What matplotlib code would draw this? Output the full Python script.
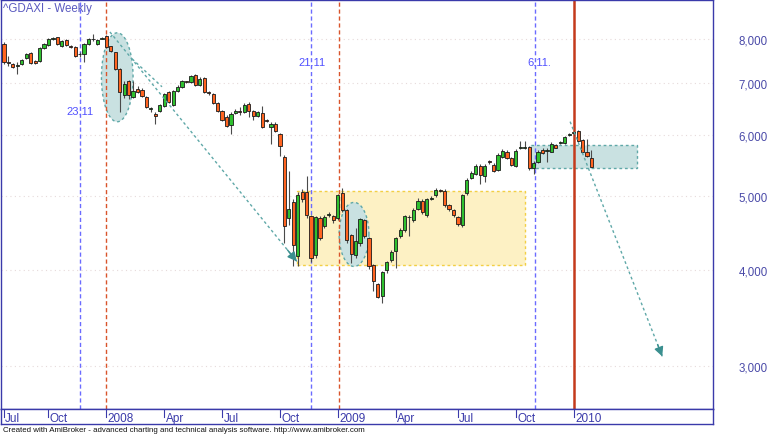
import numpy as np
import matplotlib
matplotlib.use("Agg")
import matplotlib.pyplot as plt
from matplotlib.ticker import FixedLocator, FuncFormatter, NullLocator

plt.rcParams['font.family'] = ['Liberation Sans', 'DejaVu Sans']

# weekly OHLC, ^GDAXI, late Jul 2007 .. end Jan 2010
opens = [7881, 7470, 7424, 7370, 7424, 7558, 7671, 7490, 7490, 7787,
         7857, 8000, 8048, 7834, 7976, 7830, 7810, 7640, 7648, 7881,
         7990, 7881, 8010, 8073, 7834, 7694, 7314, 6767, 7056, 6727,
         6890, 6869, 6727, 6480, 6393, 6451, 6548, 6828, 6568, 6849,
         6931, 7040, 7035, 7184, 6972, 7120, 6810, 6788, 6607, 6451,
         6336, 6186, 6412, 6440, 6431, 6587, 6451, 6355, 6412, 6265,
         6149, 6204, 6022, 5621, 4668, 4911, 4165, 5061, 5046, 4696,
         4177, 4668, 4557, 4720, 4696, 4668, 5031, 4781, 4436, 4177,
         4331, 4640, 4396, 4053, 3829, 3694, 3993, 4115, 4228, 4423,
         4503, 4690, 4640, 4809, 4926, 4710, 4950, 5001, 5080, 5076,
         4853, 4781, 4682, 4571, 5031, 5278, 5342, 5471, 5310, 5540,
         5488, 5406, 5621, 5706, 5604, 5471, 5770, 5772, 5792, 5423,
         5537, 5740, 5723, 5706, 5827, 5860, 5862, 6000, 6030, 6076,
         5914, 5706, 5604]
highs = [7920, 7603, 7440, 7468, 7540, 7680, 7700, 7520, 7800, 7910,
         8030, 8060, 8060, 7970, 8000, 7860, 7830, 7700, 7900, 8020,
         8121, 7990, 8060, 8100, 7840, 7700, 7330, 7050, 7080, 7056,
         6950, 6900, 6740, 6530, 6420, 6590, 6810, 6850, 6860, 6960,
         7080, 7060, 7190, 7200, 7130, 7140, 6840, 6810, 6630, 6470,
         6360, 6420, 6480, 6520, 6600, 6620, 6470, 6450, 6550, 6290,
         6230, 6230, 6040, 5640, 5390, 4950, 5061, 5100, 5295, 4720,
         4700, 4700, 4710, 4760, 4720, 5030, 5122, 4800, 4460, 4530,
         4680, 4660, 4420, 4070, 3850, 3990, 4110, 4240, 4420, 4530,
         4720, 4710, 4810, 4960, 4950, 4960, 4990, 5120, 5100, 5100,
         4880, 4800, 4700, 5030, 5270, 5380, 5500, 5490, 5490, 5570,
         5510, 5680, 5750, 5730, 5620, 5745, 5897, 5897, 5810, 5540,
         5730, 5760, 5770, 5870, 5840, 5890, 5985, 6030, 6070, 6094,
         5930, 5930, 5740]
lows = [7424, 7380, 7330, 7206, 7400, 7530, 7420, 7420, 7470, 7760,
        7840, 7980, 7860, 7810, 7830, 7780, 7580, 7580, 7468, 7860,
        7950, 7860, 7990, 7780, 7700, 7300, 6431, 6700, 6687, 6700,
        6800, 6720, 6500, 6420, 6204, 6420, 6530, 6600, 6540, 6830,
        6910, 7000, 7010, 6950, 6950, 6800, 6770, 6580, 6430, 6250,
        6140, 6022, 6390, 6360, 6410, 6330, 6280, 6330, 6130, 6230,
        5844, 6050, 5638, 4331, 4571, 4041, 4041, 4900, 4680, 4100,
        4150, 4370, 4530, 4690, 4610, 4640, 4760, 4340, 4078, 4150,
        4300, 4400, 4010, 3750, 3672, 3618, 3960, 4090, 4017, 4400,
        4480, 4423, 4620, 4790, 4730, 4690, 4930, 4980, 5050, 4830,
        4770, 4690, 4560, 4550, 5010, 5260, 5320, 5184, 5215, 5500,
        5370, 5380, 5600, 5580, 5470, 5450, 5750, 5750, 5400, 5342,
        5520, 5670, 5537, 5690, 5760, 5840, 5845, 5985, 5990, 5880,
        5690, 5620, 5440]
closes = [7468, 7450, 7358, 7390, 7513, 7648, 7446, 7446, 7787, 7881,
          8000, 8030, 7881, 7952, 7857, 7810, 7603, 7655, 7881, 8000,
          8005, 7976, 8030, 7810, 7717, 7314, 6828, 6993, 6767, 6849,
          6828, 6747, 6528, 6495, 6355, 6568, 6788, 6627, 6849, 6931,
          7056, 7030, 7163, 6972, 7099, 6828, 6800, 6607, 6451, 6279,
          6167, 6393, 6451, 6425, 6568, 6451, 6355, 6431, 6149, 6255,
          6204, 6076, 5809, 4557, 4795, 4305, 5001, 4941, 4710, 4140,
          4682, 4396, 4682, 4730, 4640, 5001, 4781, 4370, 4190, 4357,
          4654, 4423, 4041, 3863, 3683, 3969, 4090, 4215, 4396, 4503,
          4696, 4682, 4781, 4926, 4752, 4941, 4960, 5091, 5070, 4853,
          4795, 4710, 4585, 5001, 5246, 5358, 5471, 5326, 5471, 5530,
          5390, 5655, 5723, 5604, 5488, 5723, 5778, 5780, 5439, 5521,
          5706, 5689, 5740, 5844, 5775, 5866, 5968, 6008, 6040, 5897,
          5706, 5638, 5455]

tick_bars = [0, 10, 23, 36, 49, 62, 75, 88, 102, 115, 128]
tick_labels = ['Jul', 'Oct', '2008', 'Apr', 'Jul', 'Oct', '2009', 'Apr', 'Jul', 'Oct', '2010']
price_ticks = [3000, 4000, 5000, 6000, 7000, 8000]

# study lines / drawings
blue_marks = [17, 69, 119.3]
blue_texts = ['23.11', '21.11', '6.11.']
blue_text_pos = [(17.1, 6445), (69.2, 7466), (120.2, 7466)]
red_dashed = [22.9, 75.2]
red_solid = 128.1
ellipses = [(21.9, 29.0, 6240, 8150), (75.3, 82.0, 4041, 4898)]  # x0, x1, low, high
yellow_box = (65.8, 117.1, 4053, 5076)
teal_box = (118.2, 142.2, 5439, 5827)
arrows = [((23.8, 8171), (65.8, 4102)), ((127.2, 6242), (147.9, 3085))]
short_line = ((28.8, 7536), (35.5, 6931))

x = np.arange(len(closes))
o = np.array(opens, dtype=float)
c = np.array(closes, dtype=float)
up = c >= o

frame = '#3a3aaa'
teal_edge = '#5fa8a8'
teal_fill = '#c9e1e1'

fig = plt.figure(figsize=(7.7, 4.35), dpi=100)
ax = fig.add_axes([1 / 770, 25 / 435, 712 / 770, 409 / 435])
band = fig.add_axes([1 / 770, 10 / 435, 712 / 770, 15 / 435])

ax.set_yscale('log')
ax.set_xlim(-0.67, 159.3)
ax.set_ylim(2634, 8994)

# background drawings: boxes first, ellipses on top of them
for (x0, x1, lo, hi), fc, ec in [(yellow_box, '#fdf1c4', '#f2cf45'), (teal_box, teal_fill, teal_edge)]:
    ax.fill([x0, x1, x1, x0], [lo, lo, hi, hi], facecolor=fc, edgecolor=ec,
            linestyle=(0, (2, 2)), lw=1, zorder=1)

for x0, x1, lo, hi in ellipses:
    t = np.linspace(0, 2 * np.pi, 120)
    cx, hw = (x0 + x1) / 2, (x1 - x0) / 2
    cy, hh = np.log(lo * hi) / 2, np.log(hi / lo) / 2
    ax.fill(cx + hw * np.cos(t), np.exp(cy + hh * np.sin(t)), facecolor=teal_fill,
            edgecolor=teal_edge, linestyle=(0, (2, 2)), lw=1, zorder=1.2)

for gy in price_ticks:
    ax.axhline(gy, color='#e6dada', lw=0.8, ls=(0, (1, 3)), zorder=0)

for bx in blue_marks:
    ax.axvline(bx, color='#6b6bff', lw=1, ls=(0, (3, 2)), zorder=1.5)
for bx in red_dashed:
    ax.axvline(bx, color='#d9542b', lw=1, ls=(0, (3, 2)), zorder=1.5)
ax.axvline(red_solid, color='#c43a1c', lw=1.8, zorder=1.5)

for txt, (tx, ty) in zip(blue_texts, blue_text_pos):
    ax.text(tx, ty, txt, color='#5050ff', fontsize=8, ha='center', va='center', zorder=5)

# candles
ax.vlines(x, lows, highs, color='#4a4a4a', lw=0.8, zorder=2)
body_lo = np.minimum(o, c)
body_h = np.abs(c - o)
body_h = np.maximum(body_h, body_lo * 0.002)
ax.bar(x[up], body_h[up], bottom=body_lo[up], width=0.72, color='#2fc02f',
       edgecolor='#1a1a1a', lw=0.6, zorder=3)
ax.bar(x[~up], body_h[~up], bottom=body_lo[~up], width=0.72, color='#ff6420',
       edgecolor='#1a1a1a', lw=0.6, zorder=3)

# arrows
for (x0, y0), (x1, y1) in arrows:
    ax.plot([x0, x1], [y0, y1], color=teal_edge, lw=1, ls=(0, (2, 2)), zorder=4)
    px = x0 + 0.95 * (x1 - x0)
    py = np.exp(np.log(y0) + 0.95 * (np.log(y1) - np.log(y0)))
    ax.annotate('', xy=(x1, y1), xytext=(px, py),
                arrowprops=dict(arrowstyle='-|>,head_length=0.5,head_width=0.25',
                                color='#3a8f8f', lw=1, shrinkA=0, shrinkB=0,
                                mutation_scale=11), zorder=4)
(sx0, sy0), (sx1, sy1) = short_line
ax.plot([sx0, sx1], [sy0, sy1], color=teal_edge, lw=1, ls=(0, (2, 2)), zorder=4)

# axes styling
ax.set_xticks([])
ax.yaxis.set_major_locator(FixedLocator(price_ticks))
ax.yaxis.set_minor_locator(NullLocator())
ax.yaxis.set_major_formatter(FuncFormatter(lambda v, p: f'{int(v):,}'))
ax.yaxis.tick_right()
ax.tick_params(axis='y', length=0, pad=18.5, labelsize=8.3, labelcolor='#4a4aa8')
for s in ax.spines.values():
    s.set_color(frame)
    s.set_linewidth(1)

ax.text(0.003, 0.995, '^GDAXI - Weekly', transform=ax.transAxes, ha='left', va='top',
        fontsize=8.3, color='#5a5ac0')

band.set_xlim(ax.get_xlim())
band.set_ylim(0, 1)
band.set_xticks([])
band.set_yticks([])
for s in band.spines.values():
    s.set_color(frame)
    s.set_linewidth(1)
for tb, tl in zip(tick_bars, tick_labels):
    band.plot([tb, tb], [0.45, 1.0], color=frame, lw=0.8)
    band.text(tb + 0.3, 0.42, tl, color=frame, fontsize=8.5, ha='left', va='center')

fig.text(0.004, 0.002, 'Created with AmiBroker - advanced charting and technical analysis software. '
         'http://www.amibroker.com', fontsize=5.7, color='#111111', ha='left', va='bottom')

fig.savefig('out.png', dpi=100)
